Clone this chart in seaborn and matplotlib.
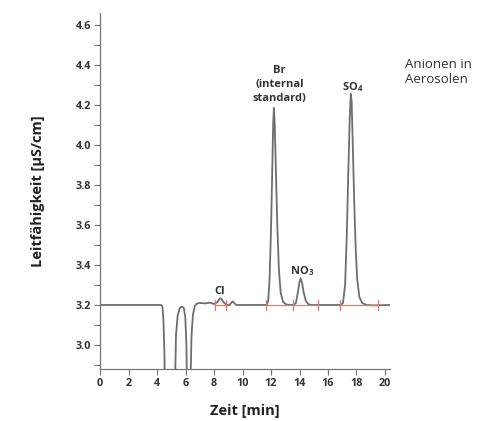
import matplotlib
matplotlib.use("Agg")
import matplotlib.pyplot as plt
import seaborn as sns
import pandas as pd

# Chromatogramm: Zeit [min] und Leitfähigkeit [µS/cm]
zeit = [0.00, 4.30, 4.38, 4.45, 4.52, 4.58, 4.64, 5.20, 5.26, 5.33, 5.45, 5.60,
        5.75, 5.88, 5.98, 6.06, 6.12, 6.18, 6.28, 6.34, 6.42, 6.52, 6.65, 6.80,
        7.00, 7.40, 7.70, 8.00, 8.25, 8.40, 8.50, 8.65, 8.85, 9.05, 9.15, 9.30,
        9.40, 9.55, 11.70, 11.80, 11.90, 12.00, 12.08, 12.15, 12.20, 12.26, 12.34,
        12.44, 12.55, 12.68, 12.85, 13.05, 13.30, 13.60, 13.75, 13.90, 14.00,
        14.08, 14.18, 14.30, 14.45, 14.60, 14.80, 16.90, 17.05, 17.20, 17.32,
        17.42, 17.52, 17.60, 17.66, 17.74, 17.84, 17.95, 18.05, 18.20, 18.40,
        18.70, 19.20, 20.35]
leitf = [3.200, 3.200, 3.190, 3.120, 2.950, 2.600, 2.300, 2.300, 2.800, 3.050,
         3.150, 3.185, 3.192, 3.185, 3.140, 3.000, 2.700, 2.300, 2.300, 2.800,
         3.050, 3.150, 3.195, 3.207, 3.210, 3.208, 3.212, 3.205, 3.215, 3.232,
         3.233, 3.215, 3.203, 3.198, 3.205, 3.218, 3.212, 3.200, 3.200, 3.220,
         3.330, 3.580, 3.850, 4.100, 4.185, 4.100, 3.880, 3.600, 3.380, 3.260,
         3.215, 3.203, 3.200, 3.200, 3.210, 3.270, 3.315, 3.333, 3.310, 3.260,
         3.220, 3.205, 3.200, 3.200, 3.210, 3.300, 3.550, 3.850, 4.120, 4.255,
         4.220, 4.000, 3.720, 3.470, 3.330, 3.240, 3.210, 3.200, 3.198, 3.200]

# Integrationsgrenzen (rote Marken auf der Basislinie)
basis_segmente = [(8.07, 8.84), (11.65, 15.32), (16.84, 19.53)]
marken = [8.07, 8.84, 11.65, 13.52, 15.32, 16.84, 19.53]
basislinie = 3.2

# Peak-Beschriftungen
peak_namen = ["Cl", "Br\n(internal\nstandard)", "NO$_\\mathbf{3}$", "SO$_\\mathbf{4}$"]
peak_x = [8.42, 12.6, 14.15, 17.75]
peak_y = [3.24, 4.205, 3.335, 4.255]

df = pd.DataFrame({"Zeit": zeit, "Leitf": leitf})

sns.set_theme(style="ticks")
plt.rcParams["font.family"] = ["Open Sans", "DejaVu Sans"]
plt.rcParams["mathtext.fontset"] = "custom"
plt.rcParams["mathtext.rm"] = "Open Sans:bold"
plt.rcParams["mathtext.bf"] = "Open Sans:bold"

fig = plt.figure(figsize=(4.93, 4.21), dpi=100)
ax = fig.add_axes([0.203, 0.1235, 0.588, 0.846])

sns.lineplot(data=df, x="Zeit", y="Leitf", ax=ax, color="#6e6e6e",
             linewidth=1.3, sort=False, estimator=None)

rot = "#f07070"
for a, b in basis_segmente:
    ax.plot([a, b], [basislinie, basislinie], color=rot, lw=0.9, zorder=3)
for m in marken:
    ax.plot([m, m], [basislinie - 0.025, basislinie + 0.025], color=rot,
            lw=0.9, zorder=3)

for name, px, py in zip(peak_namen, peak_x, peak_y):
    ax.text(px, py, name, ha="center", va="bottom", fontsize=8,
            fontweight="bold", color="#333333", linespacing=1.35)

ax.set_xlim(0, 20.35)
ax.set_ylim(2.88, 4.66)
ax.set_xticks(range(0, 21, 2))
ax.set_yticks([3.0, 3.2, 3.4, 3.6, 3.8, 4.0, 4.2, 4.4, 4.6])
ax.set_yticks([2.9 + 0.2 * i for i in range(9)], minor=True)
ax.tick_params(axis="both", which="major", labelsize=7.8, length=4, width=0.8,
               color="#777777", labelcolor="#333333", pad=2.5)
ax.tick_params(axis="y", which="minor", length=4, width=0.8, color="#777777")
for lab in ax.get_xticklabels() + ax.get_yticklabels():
    lab.set_fontweight("bold")

ax.set_xlabel("Zeit [min]", fontsize=10.5, fontweight="bold", color="#222222",
              labelpad=11)
ax.set_ylabel("Leitfähigkeit [µS/cm]", fontsize=10.5, fontweight="bold",
              color="#222222", labelpad=22)

sns.despine(ax=ax)
for s in ["left", "bottom"]:
    ax.spines[s].set_color("#777777")
    ax.spines[s].set_linewidth(0.9)

fig.text(405 / 493, 1 - 72 / 421, "Anionen in\nAerosolen", fontsize=9.5,
         color="#333333", va="center", ha="left", linespacing=1.2)

fig.savefig("out.png", dpi=100)
